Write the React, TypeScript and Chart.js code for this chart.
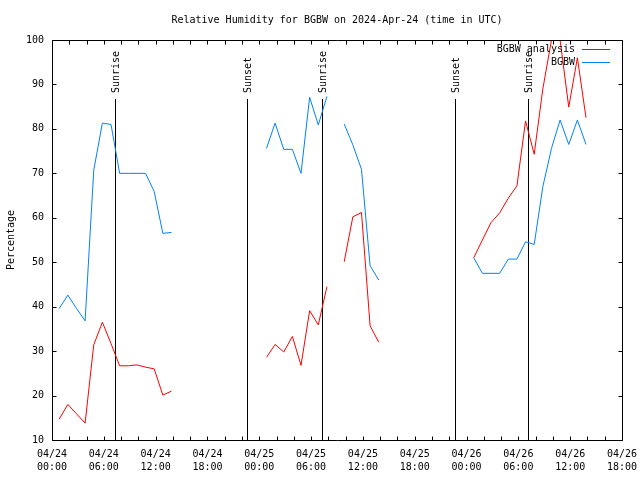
import React, { useEffect, useRef } from "react";
import { Chart, registerables } from "chart.js";

Chart.register(...registerables);

const FONT = "'DejaVu Sans Mono', 'Liberation Mono', monospace";

const TITLE = "Relative Humidity for BGBW on 2024-Apr-24 (time in UTC)";
const Y_LABEL = "Percentage";
const SERIES_NAMES = ["BGBW analysis", "BGBW"];
const SERIES_COLORS = ["#ff0000", "#0080ff"];

// axis tick labels
const DAY_LABELS = ["04/24", "04/25", "04/26"];
const HOUR_LABELS = ["00:00", "06:00", "12:00", "18:00"];

// observation times (day of April, UTC time)
const OBS_TIMES = [
  "24 00:50", "24 01:50", "24 02:50", "24 03:50", "24 04:50", "24 05:50", "24 06:50",
  "24 07:50", "24 08:50", "24 09:50", "24 10:50", "24 11:50", "24 12:50", "24 13:50",
  "24 14:50",
  "25 00:50", "25 01:50", "25 02:50", "25 03:50", "25 04:50", "25 05:50", "25 06:50",
  "25 07:50", "25 08:50", "25 09:50", "25 10:50", "25 11:50", "25 12:50", "25 13:50",
  "25 14:50",
  "26 00:50", "26 01:50", "26 02:50", "26 03:50", "26 04:50", "26 05:50", "26 06:50",
  "26 07:50", "26 08:50", "26 09:50", "26 10:50", "26 11:50", "26 12:50", "26 13:50",
];

const ANALYSIS_RH: (number | null)[] = [
  14.7, 18.0, 15.9, 13.8, 31.4, 36.5, 31.7, 26.7, 26.7, 26.9, 26.4, 26.0, 20.1, 21.0,
  null,
  28.6, 31.5, 29.8, 33.3, 26.8, 39.1, 35.9, 44.5, null, 50.1, 60.2, 61.2, 35.7, 32.0,
  null,
  51.0, 55.0, 58.9, 61.1, 64.4, 67.2, 81.8, 74.3, 89.0, 100, 100, 84.9, 96.0, 82.5,
];

const OBSERVED_RH: (number | null)[] = [
  39.6, 42.6, 39.6, 36.8, 70.7, 81.3, 81.0, 70.0, 70.0, 70.0, 70.0, 65.9, 56.5, 56.7,
  null,
  75.6, 81.3, 75.4, 75.4, 70.0, 87.1, 80.9, 87.3, null, 81.1, 76.4, 70.9, 49.2, 46.0,
  null,
  51.0, 47.5, 47.5, 47.5, 50.7, 50.7, 54.6, 54.0, 67.0, 75.6, 82.0, 76.5, 82.0, 76.5,
];

const SUN_LABELS = ["Sunrise", "Sunset", "Sunrise", "Sunset", "Sunrise"];
const SUN_TIMES = ["24 07:20", "24 22:35", "25 07:19", "25 22:43", "26 07:07"];

const START_DAY = 24;

function toHours(t: string): number {
  const [d, hm] = t.split(" ");
  const [h, m] = hm.split(":");
  return (parseInt(d, 10) - START_DAY) * 24 + parseInt(h, 10) + parseInt(m, 10) / 60;
}

const framePlugin = {
  id: "gnuplotFrame",
  beforeDatasetsDraw(chart: any) {
    const { ctx, chartArea, scales } = chart;
    const xs = scales.x;
    const ys = scales.y;
    ctx.save();
    ctx.strokeStyle = "#000";
    ctx.lineWidth = 1;
    ctx.fillStyle = "#000";
    ctx.font = `10px ${FONT}`;
    SUN_TIMES.forEach((t, i) => {
      const x = Math.round(xs.getPixelForValue(toHours(t))) + 0.5;
      const yTop = Math.round(ys.getPixelForValue(86.7));
      ctx.beginPath();
      ctx.moveTo(x, chartArea.bottom);
      ctx.lineTo(x, yTop);
      ctx.stroke();
      ctx.save();
      ctx.translate(x + 0.5, yTop - 6);
      ctx.rotate(-Math.PI / 2);
      ctx.textAlign = "left";
      ctx.textBaseline = "middle";
      ctx.fillText(SUN_LABELS[i], 0, 0);
      ctx.restore();
    });
    ctx.restore();
  },
  afterDraw(chart: any) {
    const { ctx, chartArea, scales } = chart;
    const xs = scales.x;
    const ys = scales.y;
    const L = chartArea.left + 0.5;
    const R = chartArea.right + 0.5;
    const T = chartArea.top + 0.5;
    const B = chartArea.bottom + 0.5;
    ctx.save();
    ctx.strokeStyle = "#000";
    ctx.lineWidth = 1;
    ctx.beginPath();
    ctx.rect(L, T, R - L, B - T);
    ctx.stroke();
    const tl = 4;
    ctx.beginPath();
    for (let v = xs.min; v <= xs.max; v += 2) {
      const x = Math.round(xs.getPixelForValue(v)) + 0.5;
      ctx.moveTo(x, B);
      ctx.lineTo(x, B - tl);
      ctx.moveTo(x, T);
      ctx.lineTo(x, T + tl);
    }
    for (let v = ys.min; v <= ys.max; v += 10) {
      const y = Math.round(ys.getPixelForValue(v)) + 0.5;
      ctx.moveTo(L, y);
      ctx.lineTo(L + tl, y);
      ctx.moveTo(R, y);
      ctx.lineTo(R - tl, y);
    }
    ctx.stroke();

    // title
    ctx.fillStyle = "#000";
    ctx.font = `10px ${FONT}`;
    ctx.textAlign = "center";
    ctx.textBaseline = "middle";
    ctx.fillText(TITLE, (chartArea.left + chartArea.right) / 2, 20);

    // legend
    chart.data.datasets.forEach((ds: any, i: number) => {
      const y = 49 + i * 13;
      ctx.textAlign = "right";
      ctx.fillStyle = "#000";
      ctx.fillText(ds.label, 575, y);
      ctx.strokeStyle = ds.borderColor;
      ctx.beginPath();
      ctx.moveTo(582, y + 0.5);
      ctx.lineTo(610, y + 0.5);
      ctx.stroke();
    });
    ctx.restore();
  },
};

export default function App() {
  const ref = useRef<HTMLCanvasElement | null>(null);

  useEffect(() => {
    if (!ref.current) return;
    const hours = OBS_TIMES.map(toHours);
    const mk = (vals: (number | null)[]) => hours.map((h, i) => ({ x: h, y: vals[i] }));
    const chart = new Chart(ref.current, {
      type: "line",
      data: {
        datasets: [
          {
            label: SERIES_NAMES[0],
            data: mk(ANALYSIS_RH) as any,
            borderColor: SERIES_COLORS[0],
            backgroundColor: SERIES_COLORS[0],
            borderWidth: 1,
            pointRadius: 0,
            spanGaps: false,
            tension: 0,
          },
          {
            label: SERIES_NAMES[1],
            data: mk(OBSERVED_RH) as any,
            borderColor: SERIES_COLORS[1],
            backgroundColor: SERIES_COLORS[1],
            borderWidth: 1,
            pointRadius: 0,
            spanGaps: false,
            tension: 0,
          },
        ],
      },
      options: {
        animation: false,
        responsive: false,
        events: [],
        layout: { padding: { left: 0, right: 18, top: 40, bottom: 0 } },
        plugins: {
          legend: { display: false },
          title: { display: false },
          tooltip: { enabled: false },
        },
        scales: {
          x: {
            type: "linear",
            min: 0,
            max: 66,
            grid: { display: false, drawTicks: false },
            border: { display: false },
            afterFit: (s: any) => {
              s.height = 40;
              s.paddingLeft = 0;
              s.paddingRight = 0;
            },
            ticks: {
              stepSize: 6,
              autoSkip: false,
              maxRotation: 0,
              padding: 8,
              color: "#000",
              font: { family: FONT, size: 10, lineHeight: 1.3 },
              callback: (v: any) => {
                const n = Number(v);
                return [DAY_LABELS[Math.min(2, Math.floor(n / 24))], HOUR_LABELS[(n % 24) / 6]];
              },
            },
          },
          y: {
            min: 10,
            max: 100,
            grid: { display: false, drawTicks: false },
            border: { display: false },
            afterFit: (s: any) => {
              s.width = 52;
              s.paddingTop = 0;
              s.paddingBottom = 0;
            },
            title: {
              display: true,
              text: Y_LABEL,
              color: "#000",
              font: { family: FONT, size: 10 },
              padding: { top: 5, bottom: 0 },
            },
            ticks: {
              stepSize: 10,
              padding: 8,
              color: "#000",
              font: { family: FONT, size: 10 },
            },
          },
        },
      },
      plugins: [framePlugin],
    });
    return () => chart.destroy();
  }, []);

  return (
    <div style={{ position: "fixed", left: 0, top: 0, width: 640, height: 480, background: "#fff" }}>
      <canvas ref={ref} width={640} height={480} style={{ display: "block" }} />
    </div>
  );
}
